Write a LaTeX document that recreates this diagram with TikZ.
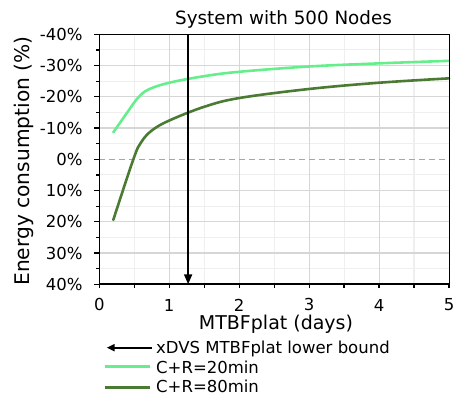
\documentclass[tikz,border=0pt]{standalone}
\usepackage{fontspec}
\setmainfont{DejaVu Sans}
\usetikzlibrary{arrows.meta}
\definecolor{lightg}{HTML}{66EE8C}
\definecolor{darkg}{HTML}{4B7A32}
\definecolor{gridmaj}{HTML}{D6D6D6}
\definecolor{gridmin}{HTML}{EFEFEF}
\definecolor{zeroline}{HTML}{A6A6A6}
\begin{document}
\begin{tikzpicture}[x=1pt,y=1pt,
  ticklab/.style={font=\fontsize{16.5}{18}\selectfont, inner sep=0pt},
  axlab/.style={font=\fontsize{19}{21}\selectfont, inner sep=0pt},
  leglab/.style={font=\fontsize{16.5}{18}\selectfont, inner sep=0pt, anchor=base west},
  gmin/.style={draw=gridmin, line width=1.1pt},
  gmaj/.style={draw=gridmaj, line width=1.1pt},
  curve/.style={line width=2.6pt, line join=round, line cap=round},
  axline/.style={line width=1.2pt},
]
\useasboundingbox (0,0) rectangle (456,395);
\begin{scope}[shift={(99.3,110.7)}, x=69.94pt, y=3.125pt]
  \foreach \s in {5,15,...,75} \draw[gmin] (0,\s) -- (5,\s);
  \foreach \d in {0.5,1.5,...,4.5} \draw[gmin] (\d,0) -- (\d,80);
  \foreach \s in {10,20,30,50,60,70} \draw[gmaj] (0,\s) -- (5,\s);
  \foreach \d in {1,2,3,4} \draw[gmaj] (\d,0) -- (\d,80);
  \draw[zeroline, line width=1.2pt, dash pattern=on 6pt off 4pt] (0,40) -- (5,40);
  \draw[curve, lightg] plot[smooth, tension=0.6] coordinates {(0.2,48.6) (0.4,55.0) (0.55,59.6) (0.7,62.3) (1.0,64.5) (1.5,66.6) (2,68.0) (3,69.7) (4,70.7) (5,71.5)};
  \draw[curve, darkg] plot[smooth, tension=0.6] coordinates {(0.2,20.6) (0.49,40.2) (0.6,45.5) (0.75,49.2) (1.0,52.4) (1.5,56.8) (2,59.6) (3,62.5) (4,64.5) (5,65.9)};
  \draw[line width=1pt] (0,0) rectangle (5,80);
  \draw[line width=1.6pt] (0,80) -- (0,0) -- (5,0);
  \foreach \s in {0,10,...,80} \draw[axline] (0,\s) -- ++(-5pt,0);
  \foreach \s in {5,15,...,75} \draw[axline] (0,\s) -- ++(-3.5pt,0);
  \foreach \d in {0,0.5,...,5} \draw[axline] (\d,0) -- ++(0,-4pt);
  \foreach \s/\t [count=\i] in {0/40\%,10/30\%,20/20\%,30/10\%,40/0\%,50/-10\%,60/-20\%,70/-30\%,80/-40\%}
    \node[ticklab, anchor=east] (yt\i) at ([xshift=-16.6pt]0,\s) {\t};
  \foreach \d in {0,...,5}
    \node[ticklab] (xt\d) at ([yshift=-20.7pt]\d,0) {\d};
  \coordinate (arrtop) at (1.27,80);
  \coordinate (arrbot) at (1.27,0);
  \draw[line width=1.8pt, -{Triangle[length=10pt,width=8pt]}] (arrtop) -- (arrbot);
\end{scope}
\node[font=\fontsize{18.3}{20}\selectfont, anchor=base, inner sep=0pt] (title) at (283.5,370.3) {System with 500 Nodes};
\node[axlab, rotate=90, font=\fontsize{20.2}{22}\selectfont] (ylab) at (23.5,234) {Energy consumption (\%)};
\node[axlab, anchor=base] (xlab) at (276,65.5) {MTBFplat (days)};
\coordinate (l1a) at (151.7,47.3);
\coordinate (l1b) at (106.7,47.3);
\draw[line width=1.8pt, -{Triangle[length=8pt,width=7pt]}] (l1a) -- (l1b);
\coordinate (l2a) at (105,28.2);
\coordinate (l2b) at (150,28.2);
\draw[lightg, line width=3pt] (l2a) -- (l2b);
\coordinate (l3a) at (105,7.8);
\coordinate (l3b) at (150,7.8);
\draw[darkg, line width=3pt] (l3a) -- (l3b);
\node[leglab] (t1) at (156,41.6) {xDVS MTBFplat lower bound};
\node[leglab] (t2) at (156,21.8) {C+R=20min};
\node[leglab] (t3) at (156,2) {C+R=80min};
\end{tikzpicture}
\end{document}
